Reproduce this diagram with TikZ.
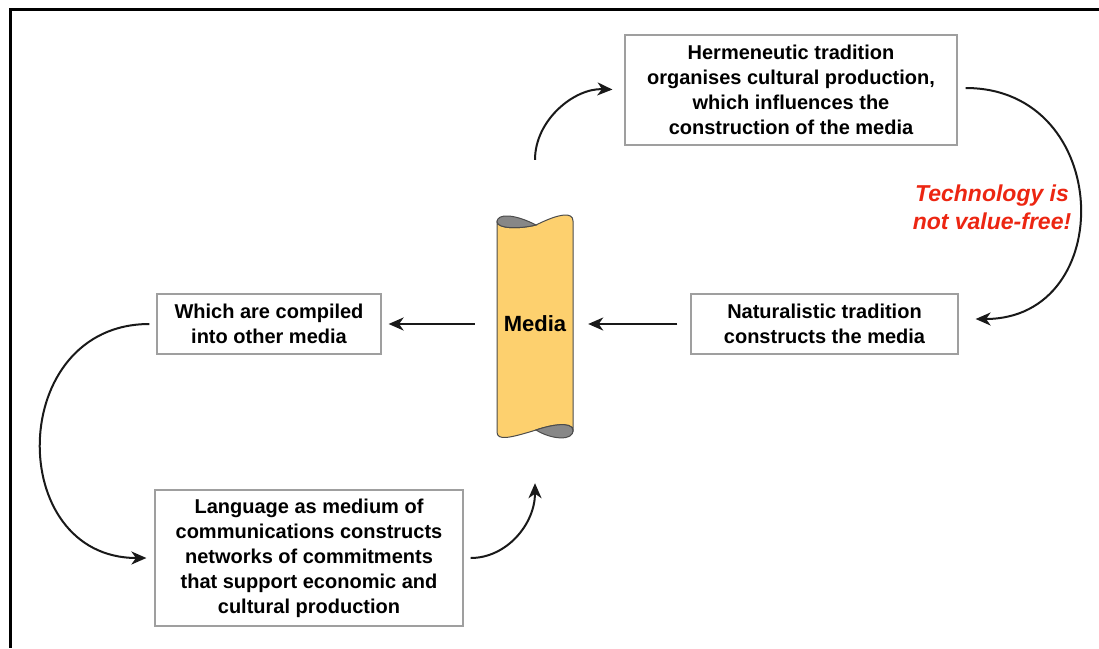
\documentclass[tikz,border=0pt]{standalone}
\usepackage{fontspec}
\setmainfont{Liberation Sans}
\usetikzlibrary{arrows.meta}
\definecolor{mediayellow}{RGB}{253,208,110}
\definecolor{lensgray}{RGB}{135,135,135}
\definecolor{notered}{RGB}{236,38,18}

\begin{document}
\begin{tikzpicture}[x=1pt,y=-1pt,
	box/.style={draw=gray!75,line width=1.2pt,fill=white,align=center,inner sep=0pt,
		font=\fontsize{20}{25}\selectfont\bfseries},
	flow/.style={-{Stealth[length=15pt,width=13pt,inset=4.5pt]},line width=2pt,black!90},
	tube/.style={draw=gray!60!black,line width=1pt}]
	\useasboundingbox (0,0) rectangle (1099,648);
	\draw[line width=3pt] (1099,9) -- (10,9) -- (10,648);
	% the media tube
	\filldraw[tube,fill=mediayellow] (497,222) -- (497,432)
		.. controls (497,441) and (510,438) .. (536,430)
		.. controls (550,425) and (572,421) .. (573,430) -- (573,221)
		.. controls (573,212) and (560,213) .. (536,225)
		.. controls (520,229) and (498,229) .. (497,222) -- cycle;
	\filldraw[tube,fill=lensgray] (497,222) .. controls (497,213) and (515,214) .. (536,225)
		.. controls (520,229) and (498,229) .. (497,222) -- cycle;
	\filldraw[tube,fill=lensgray] (536,430) .. controls (550,425) and (572,421) .. (573,430)
		.. controls (574,441) and (552,440) .. (536,430) -- cycle;
	\node[minimum width=76pt,minimum height=218pt,inner sep=0pt,
		font=\fontsize{22}{26}\selectfont\bfseries] (media) at (535,324) {Media};
	% boxes
	\node[box,minimum width=332pt,minimum height=110pt] (herm) at (791,90)
		{Hermeneutic tradition\\organises cultural production,\\which influences the\\construction of the media};
	\node[box,minimum width=267pt,minimum height=60pt] (nat) at (824.5,324)
		{Naturalistic tradition\\constructs the media};
	\node[box,minimum width=224pt,minimum height=60pt] (which) at (269,324)
		{Which are compiled\\into other media};
	\node[box,minimum width=308pt,minimum height=136pt] (lang) at (309,558)
		{Language as medium of\\communications constructs\\networks of commitments\\that support economic and\\cultural production};
	\node[align=center,text=notered,font=\fontsize{23}{28}\selectfont\bfseries\itshape] (note) at (992,207)
		{Technology is\\not value-free!};
	% connectors
	\draw[flow,shorten <=13pt,shorten >=15pt] (nat.west) -- (media.east);
	\draw[flow,shorten <=22pt,shorten >=7pt] (media.west) -- (which.east);
	\draw[flow,shorten <=55pt,shorten >=12pt] (media.north) .. controls +(0,-95) and +(-50,-2) .. (herm.west);
	\draw[flow,shorten <=8pt,shorten >=17pt] ([yshift=2pt]herm.east) .. controls +(156,0) and +(160,0) .. ([yshift=5pt]nat.east);
	\draw[flow,shorten <=7pt,shorten >=8pt] (which.west) .. controls +(-150,0) and +(-150,0) .. (lang.west);
	\draw[flow,shorten <=7pt,shorten >=50pt] (lang.east) .. controls +(43,0) and +(0,91) .. (media.south);
\end{tikzpicture}
\end{document}
